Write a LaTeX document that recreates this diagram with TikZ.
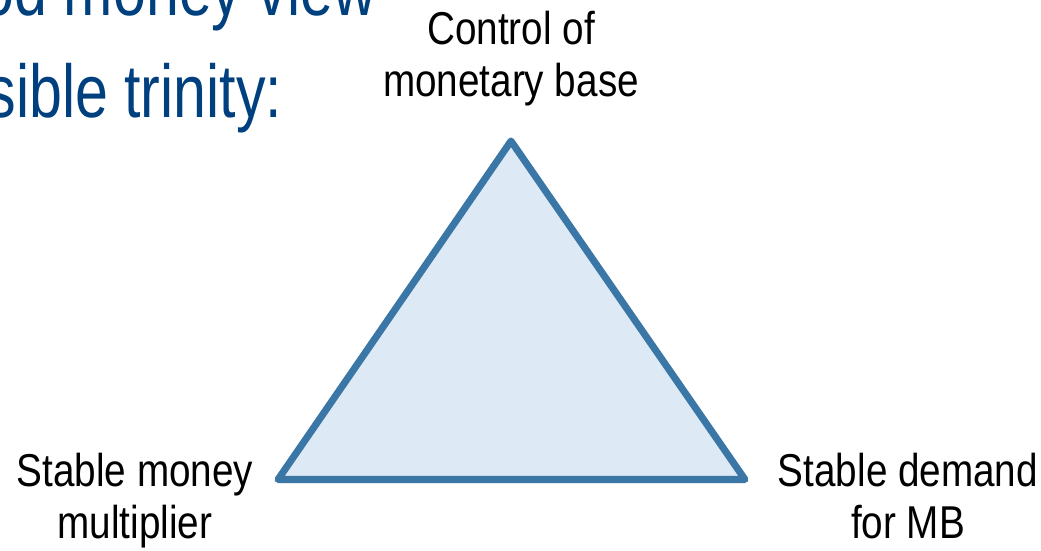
\documentclass[tikz,border=0pt]{standalone}
\usepackage{fontspec}
\setmainfont{Liberation Sans}[FakeStretch=0.84]
\newfontfamily\headfont{Liberation Sans}[FakeStretch=0.79]
\usetikzlibrary{positioning}
\usepackage{xcolor}
\definecolor{edgeblue}{HTML}{3A76A6}
\definecolor{areablue}{HTML}{DDE9F4}
\definecolor{headblue}{HTML}{00407F}

\begin{document}
\begin{tikzpicture}[
    every node/.style={inner sep=0pt},
    corner/.style={font=\fontsize{13.1}{14.8}\selectfont, align=center},
    heading/.style={font=\headfont\fontsize{21.3}{25}\selectfont, text=headblue, anchor=base east},
    tri/.style={draw=edgeblue, fill=areablue, line width=2pt, line join=round}
]
    \useasboundingbox (0,0) rectangle (10.41,5.5);

    % slide heading, running off the top left
    \node[heading] (head1) at (3.77,5.35) {od money view};
    \node[heading] (head2) at (2.83,4.33) {sible trinity:};

    % the three corners
    \coordinate (cb) at (5.11,4.09);
    \coordinate (mm) at (2.78,0.705);
    \coordinate (dm) at (7.45,0.705);
    \draw[tri] (cb) -- (mm) -- (dm) -- cycle;

    \node[corner, above=0.34cm of cb]      (base) {Control of\\monetary base};
    \node[corner, anchor=north] at (1.35,0.98) (mult) {Stable money\\multiplier};
    \node[corner, anchor=north] at (9.08,0.98) (dmd)  {Stable demand\\for MB};
\end{tikzpicture}
\end{document}
